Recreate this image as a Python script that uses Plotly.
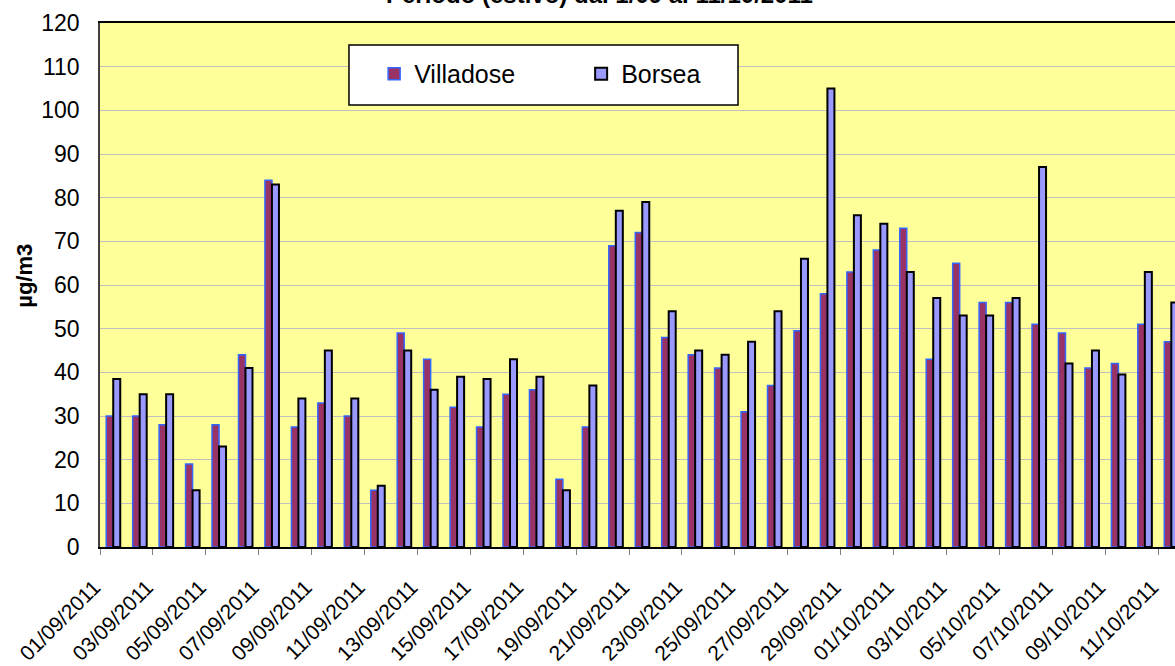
import plotly.graph_objects as go

# giorni dal 01/09/2011 al 11/10/2011
giorni = [f"{d:02d}/09/2011" for d in range(1, 31)] + [f"{d:02d}/10/2011" for d in range(1, 12)]

villadose = [30, 30, 28, 19, 28, 44, 84, 27.5, 33, 30, 13, 49, 43, 32, 27.5, 35, 36, 15.5,
             27.5, 69, 72, 48, 44, 41, 31, 37, 49.5, 58, 63, 68, 73, 43, 65, 56, 56, 51,
             49, 41, 42, 51, 47]
borsea = [38.5, 35, 35, 13, 23, 41, 83, 34, 45, 34, 14, 45, 36, 39, 38.5, 43, 39, 13,
          37, 77, 79, 54, 45, 44, 47, 54, 66, 105, 76, 74, 63, 57, 53, 53, 57, 87,
          42, 45, 39.5, 63, 56]

font = "Arial, Liberation Sans, sans-serif"

fig = go.Figure()
fig.add_trace(go.Bar(name='Villadose', x=giorni, y=villadose,
                     marker=dict(color='#993366', line=dict(color='#3366FF', width=1.5))))
fig.add_trace(go.Bar(name='Borsea', x=giorni, y=borsea,
                     marker=dict(color='#9999FF', line=dict(color='#000000', width=2))))

# riquadro della legenda
fig.add_shape(type='rect', xref='paper', yref='paper', x0=0.2316, x1=0.5935, y0=0.8435, y1=0.958,
              fillcolor='white', line=dict(color='black', width=1.5), layer='above')

fig.update_layout(
    width=1175, height=666,
    margin=dict(l=100, r=0, t=23, b=119, autoexpand=False),
    paper_bgcolor='white', plot_bgcolor='#FFFF99',
    barmode='group', bargap=0.47, bargroupgap=0,
    font=dict(family=font, size=22, color='black'),
    showlegend=True,
    legend=dict(orientation='h', x=0.255, xanchor='left', y=0.9027, yanchor='middle',
                bgcolor='rgba(0,0,0,0)', borderwidth=0, font=dict(size=25),
                entrywidth=162, entrywidthmode='pixels'),
    annotations=[
        dict(text='<b>Periodo (estivo) dal 1/09 al 11/10/2011</b>', xref='paper', yref='paper',
             x=0.465, y=1.025, xanchor='center', yanchor='bottom', showarrow=False,
             font=dict(size=24)),
        dict(text='<b>µg/m3</b>', textangle=-90, xref='paper', yref='paper',
             x=-0.071, y=0.517, xanchor='center', yanchor='middle',
             showarrow=False, font=dict(size=22)),
    ],
)

fig.update_xaxes(type='category', range=[-0.5, 40.14], tickson='boundaries', dtick=2, tick0=0,
                 tickangle=-45, ticks='outside', ticklen=6, tickcolor='#808080',
                 ticklabelshift=-19, ticklabelstandoff=18, automargin=False,
                 showline=True, linecolor='black', linewidth=1.5, mirror=True,
                 showgrid=False, tickfont=dict(size=21))
fig.update_yaxes(range=[0, 120], dtick=10, showgrid=True, gridcolor='#C0C0C0', gridwidth=1,
                 showline=True, linecolor='#404040', linewidth=1.5, zeroline=False,
                 ticks='', ticklabelstandoff=14, automargin=False, tickfont=dict(size=23))

# pagina senza margine, come l'immagine di partenza
fig.write_html("out.html", config={'displayModeBar': False},
               post_script="document.body.style.margin='0';")
